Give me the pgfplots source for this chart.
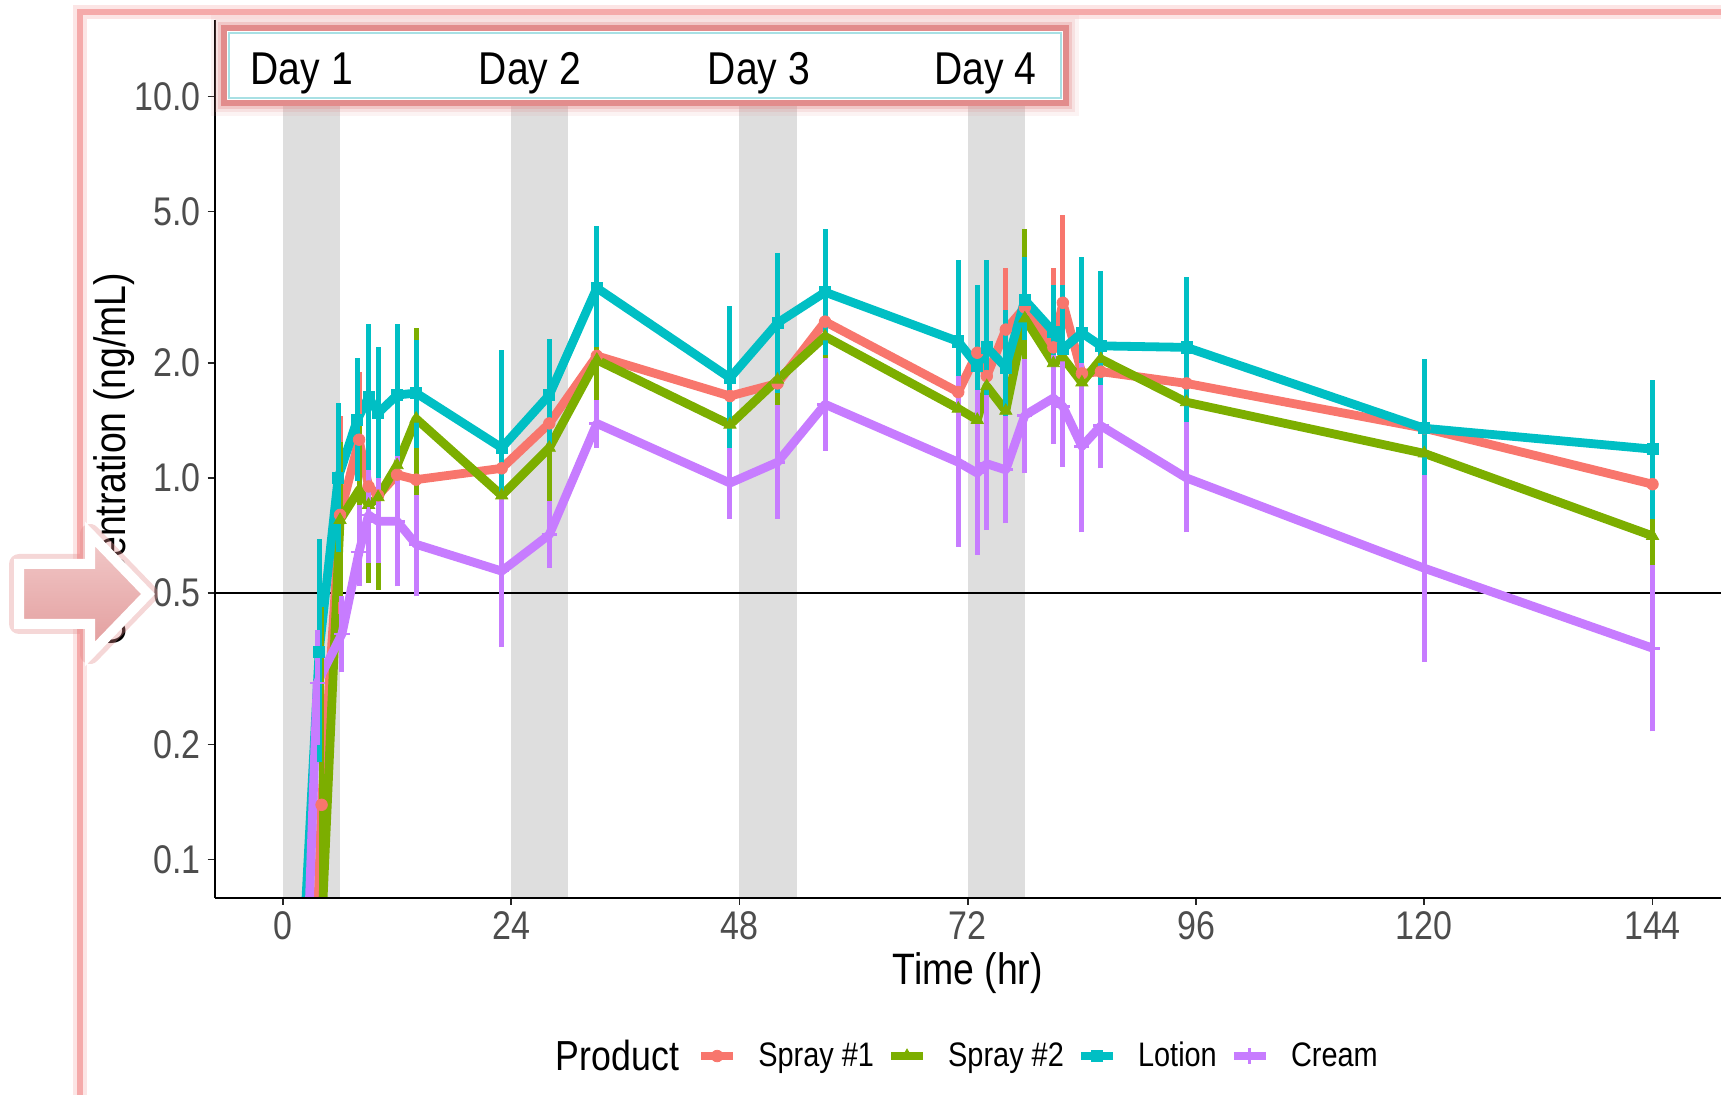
\documentclass[border=0pt]{standalone}
\usepackage{fontspec}
\setmainfont{Liberation Sans}[FakeStretch=0.85]
\usepackage{pgfplots}
\usepackage{pgfplotstable}
\pgfplotsset{compat=1.18}

\definecolor{c1}{HTML}{F8766D}
\definecolor{c2}{HTML}{7CAE00}
\definecolor{c3}{HTML}{00BFC4}
\definecolor{c4}{HTML}{C77CFF}
\definecolor{band}{HTML}{DEDEDE}
\definecolor{tickgray}{HTML}{4D4D4D}
\definecolor{framepink}{HTML}{F5AAAA}
\definecolor{boxpink}{HTML}{E28C8C}
\definecolor{arrowtop}{HTML}{F2CACA}
\definecolor{arrowbot}{HTML}{E29C9C}
\definecolor{boxcyan}{HTML}{A8E0E4}

% ---------- Spray #1 ----------
\pgfplotstableread{
t m
2 0.005
4.06 0.139
6 0.80
8 1.26
9 0.95
10 0.90
12 1.02
14 0.99
23 1.06
28 1.39
33 2.09
47 1.64
52 1.77
57 2.57
71 1.68
73 2.13
74 1.85
76 2.45
78 2.80
81 2.20
82 2.88
84 1.88
86 1.90
95 1.77
120 1.35
144 0.963
}\sone
\pgfplotstableread{
t y
4.06 0.06
4.06 0.32
4.06 nan
6 0.44
6 1.45
6 nan
8 0.84
8 1.90
8 nan
9 0.62
9 1.45
9 nan
10 0.62
10 1.30
10 nan
12 0.62
12 1.68
12 nan
14 0.77
14 1.28
14 nan
23 0.70
23 1.60
23 nan
28 0.84
28 2.30
28 nan
33 1.45
33 3.00
33 nan
47 1.28
47 2.10
47 nan
52 1.20
52 2.60
52 nan
57 1.90
57 3.50
57 nan
71 1.18
71 2.40
71 nan
73 1.62
73 2.78
73 nan
74 1.42
74 2.40
74 nan
76 1.65
76 3.55
76 nan
78 2.05
78 3.80
78 nan
81 1.40
81 3.55
81 nan
82 1.70
82 4.90
82 nan
84 1.35
84 2.60
84 nan
86 1.55
86 2.33
86 nan
95 1.36
95 2.30
95 nan
120 0.90
120 2.03
120 nan
144 0.67
144 1.39
144 nan
}\soneerr

% ---------- Spray #2 ----------
\pgfplotstableread{
t m
2 0.01
4 0.06
6 0.776
8 0.93
9 0.85
10 0.89
12 1.08
14 1.43
23 0.90
28 1.20
33 2.04
47 1.38
52 1.81
57 2.35
71 1.52
73 1.42
74 1.74
76 1.50
78 2.62
81 2.00
82 2.07
84 1.78
86 2.05
95 1.58
120 1.16
144 0.705
}\stwo
\pgfplotstableread{
t y
4 0.008
4 0.46
4 nan
6 0.474
6 1.245
6 nan
8 0.61
8 1.39
8 nan
9 0.53
9 1.32
9 nan
10 0.51
10 1.55
10 nan
12 0.64
12 1.81
12 nan
14 0.81
14 2.47
14 nan
23 0.52
23 1.52
23 nan
28 0.76
28 1.82
28 nan
33 1.33
33 3.17
33 nan
47 0.90
47 2.03
47 nan
52 1.20
52 2.76
52 nan
57 1.40
57 4.00
57 nan
71 1.00
71 2.18
71 nan
73 0.98
73 2.00
73 nan
74 1.28
74 2.20
74 nan
76 1.00
76 2.13
76 nan
78 1.56
78 4.50
78 nan
81 1.40
81 2.82
81 nan
82 1.50
82 2.80
82 nan
84 1.20
84 2.56
84 nan
86 1.58
86 2.61
86 nan
95 1.16
95 2.18
95 nan
120 0.93
120 1.48
120 nan
144 0.465
144 1.06
144 nan
}\stwoerr

% ---------- Lotion ----------
\pgfplotstableread{
t m
2 0.05
3.8 0.35
5.8 1.00
7.8 1.42
9 1.63
10 1.48
12 1.65
14 1.67
23 1.20
28 1.65
33 3.15
47 1.83
52 2.55
57 3.07
71 2.28
73 1.97
74 2.20
76 1.95
78 2.93
81 2.42
82 2.18
84 2.40
86 2.22
95 2.20
120 1.35
144 1.19
}\lotion
\pgfplotstableread{
t y
3.8 0.18
3.8 0.69
3.8 nan
5.8 0.64
5.8 1.57
5.8 nan
7.8 0.98
7.8 2.06
7.8 nan
9 1.05
9 2.54
9 nan
10 0.99
10 2.21
10 nan
12 1.07
12 2.54
12 nan
14 1.20
14 2.30
14 nan
23 0.66
23 2.17
23 nan
28 1.18
28 2.31
28 nan
33 2.20
33 4.58
33 nan
47 1.17
47 2.83
47 nan
52 1.67
52 3.90
52 nan
57 2.10
57 4.50
57 nan
71 1.39
71 3.72
71 nan
73 1.20
73 3.20
73 nan
74 1.22
74 3.72
74 nan
76 1.40
76 2.75
76 nan
78 2.30
78 3.80
78 nan
81 1.80
81 3.20
81 nan
82 1.43
82 3.20
82 nan
84 1.48
84 3.80
84 nan
86 1.42
86 3.48
86 nan
95 1.40
95 3.37
95 nan
120 0.90
120 2.05
120 nan
144 0.78
144 1.81
144 nan
}\lotionerr

% ---------- Cream ----------
\pgfplotstableread{
t m
2 0.022
3.6 0.29
6.2 0.39
8 0.64
9 0.80
10 0.77
12 0.77
14 0.67
23 0.57
28 0.71
33 1.39
47 0.97
52 1.10
57 1.56
71 1.10
73 1.03
74 1.09
76 1.05
78 1.46
81 1.62
82 1.54
84 1.21
86 1.37
95 1.00
120 0.58
144 0.358
}\cream
\pgfplotstableread{
t y
3.6 0.20
3.6 0.40
3.6 nan
6.2 0.31
6.2 0.49
6.2 nan
8 0.52
8 0.85
8 nan
9 0.60
9 1.05
9 nan
10 0.60
10 1.00
10 nan
12 0.52
12 1.14
12 nan
14 0.49
14 0.90
14 nan
23 0.36
23 0.90
23 nan
28 0.58
28 0.87
28 nan
33 1.20
33 1.60
33 nan
47 0.78
47 1.20
47 nan
52 0.78
52 1.55
52 nan
57 1.18
57 2.06
57 nan
71 0.66
71 1.85
71 nan
73 0.63
73 1.70
73 nan
74 0.73
74 1.65
74 nan
76 0.76
76 1.45
76 nan
78 1.03
78 2.05
78 nan
81 1.23
81 2.10
81 nan
82 1.07
82 2.20
82 nan
84 0.72
84 2.00
84 nan
86 1.06
86 1.75
86 nan
95 0.72
95 1.40
95 nan
120 0.33
120 1.02
120 nan
144 0.2165
144 0.59
144 nan
}\creamerr

\begin{document}
\begin{tikzpicture}
\path[use as bounding box] (0pt,0pt) rectangle (860.5pt,547pt);
% outer pink frame
\draw[framepink, opacity=0.3, line width=7pt] (40pt,-5pt) -- (40pt,541pt) -- (870pt,541pt);
\draw[framepink, line width=3.4pt] (40pt,-5pt) -- (40pt,541pt) -- (870pt,541pt);

\begin{axis}[
  at={(107.25pt,98pt)}, anchor=south west,
  scale only axis, width=753.25pt, height=439pt,
  xmin=-7.2, xmax=151.2,
  ymode=log, ymin=0.0792, ymax=15.88,
  axis lines=left,
  axis line style={-, line width=1pt, black},
  every inner x axis line/.append style={-},
  every inner y axis line/.append style={-},
  axis on top,
  xtick={0,24,48,72,96,120,144},
  ytick={0.1,0.2,0.5,1,2,5,10},
  yticklabels={0.1,0.2,0.5,1.0,2.0,5.0,10.0},
  yminorticks=false,
  tick align=outside, major tick length=3.5pt,
  tick style={line width=0.8pt, black!85},
  ticklabel style={font=\fontsize{20}{23}\selectfont, text=tickgray},
  /pgf/number format/assume math mode=true,
  xlabel={Time (hr)}, ylabel={Concentration (ng/mL)},
  label style={font=\fontsize{22}{25}\selectfont},
  xlabel style={at={(axis description cs:0.5,-0.0985)}, anchor=base},
  ylabel style={at={(axis description cs:-0.0594,0.5)}, anchor=base},
  legend style={at={(axis description cs:0.316,-0.18)}, anchor=west,
    draw=none, fill=none, legend columns=-1,
    font=\fontsize{17}{20}\selectfont,
    /tikz/every odd column/.append style={column sep=8.5pt},
    /tikz/every even column/.append style={column sep=4.4pt}},
  legend cell align=left,
  clip=true,
]
% day bands
\addplot[fill=band, draw=none, forget plot] coordinates {(0,0.05) (6,0.05) (6,10) (0,10)};
\addplot[fill=band, draw=none, forget plot] coordinates {(24,0.05) (30,0.05) (30,10) (24,10)};
\addplot[fill=band, draw=none, forget plot] coordinates {(48,0.05) (54,0.05) (54,10) (48,10)};
\addplot[fill=band, draw=none, forget plot] coordinates {(72,0.05) (78,0.05) (78,10) (72,10)};
% reference line
\addplot[black, line width=1pt, forget plot] coordinates {(-10,0.5) (160,0.5)};
% lines
\addplot[c1, line width=4.4pt, line join=round, forget plot] table[x=t,y=m]{\sone};
\addplot[c2, line width=4.4pt, line join=round, forget plot] table[x=t,y=m]{\stwo};
\addplot[c3, line width=4.4pt, line join=round, forget plot] table[x=t,y=m]{\lotion};
\addplot[c4, line width=4.4pt, line join=round, forget plot] table[x=t,y=m]{\cream};
% error bars
\addplot[c1, line width=2.5pt, unbounded coords=jump, forget plot] table[x=t,y=y]{\soneerr};
\addplot[c2, line width=2.5pt, unbounded coords=jump, forget plot] table[x=t,y=y]{\stwoerr};
\addplot[c3, line width=2.5pt, unbounded coords=jump, forget plot] table[x=t,y=y]{\lotionerr};
\addplot[c4, line width=2.5pt, unbounded coords=jump, forget plot] table[x=t,y=y]{\creamerr};
% points
\addplot[c1, only marks, mark=*, mark size=2.9pt, skip coords between index={0}{1},
  legend image code/.code={\draw[c1, line width=4.2pt] (0pt,0pt) -- (16pt,0pt);
    \draw[c1, mark=*, mark size=2.9pt, only marks] plot coordinates {(8pt,0pt)};}]
  table[x=t,y=m]{\sone};
\addlegendentry{Spray \#1}
\addplot[c2, only marks, mark=triangle*, mark size=3.5pt, skip coords between index={0}{2},
  legend image code/.code={\draw[c2, line width=4.2pt] (0pt,0pt) -- (16pt,0pt);
    \draw[c2, mark=triangle*, mark size=3.5pt, only marks] plot coordinates {(8pt,0pt)};}]
  table[x=t,y=m]{\stwo};
\addlegendentry{Spray \#2}
\addplot[c3, only marks, mark=square*, mark size=2.8pt, skip coords between index={0}{1},
  legend image code/.code={\draw[c3, line width=4.2pt] (0pt,0pt) -- (16pt,0pt);
    \draw[c3, mark=square*, mark size=2.8pt, only marks] plot coordinates {(8pt,0pt)};}]
  table[x=t,y=m]{\lotion};
\addlegendentry{Lotion}
\addplot[c4, only marks, mark=+, mark size=3.8pt, mark options={line width=1.4pt}, skip coords between index={0}{1},
  legend image code/.code={\draw[c4, line width=4.2pt] (0pt,0pt) -- (16pt,0pt);
    \draw[c4, mark=+, mark size=3.8pt, mark options={line width=1.4pt}, only marks] plot coordinates {(8pt,0pt)};}]
  table[x=t,y=m]{\cream};
\addlegendentry{Cream}
\end{axis}

\begin{scope}[x=1pt,y=1pt]
% Day label box
\foreach \w/\o in {13/0.10, 9/0.18, 6/0.3} {\draw[boxpink, line width=\w pt, opacity=\o] (112,495.5) rectangle (533,533);}
\fill[white] (112,495.5) rectangle (533,533);
\draw[boxpink, line width=3pt] (112,495.5) rectangle (533,533);
\draw[boxcyan, line width=0.6pt] (114.5,498) rectangle (530.5,530.5);
\foreach \x/\d in {150.9/1, 265/2, 379.5/3, 492.8/4}
  {\node[anchor=base, font=\fontsize{23}{26}\selectfont, inner sep=0pt] at (\x,504.8) {Day \d};}
% legend title
\node[anchor=base, font=\fontsize{21}{24}\selectfont, inner sep=0pt] at (308.75,12) {Product};
% arrow
\draw[boxpink, opacity=0.35, line width=10pt, line join=round]
  (9.5,265) -- (45,265) -- (45,280) -- (74,250) -- (45,220) -- (45,235) -- (9.5,235) -- cycle;
\path[top color=arrowtop, bottom color=arrowbot, draw=white, line width=5pt, line join=miter]
  (9.5,265) -- (45,265) -- (45,280) -- (74,250) -- (45,220) -- (45,235) -- (9.5,235) -- cycle;
\end{scope}
\end{tikzpicture}
\end{document}
